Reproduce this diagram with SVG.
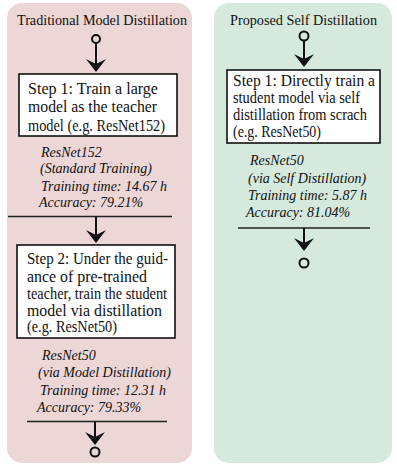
<svg xmlns="http://www.w3.org/2000/svg" xmlns:xlink="http://www.w3.org/1999/xlink" width="397" height="467" viewBox="0 0 397 467">
<style>
  text { font-family: "Liberation Serif", "Times New Roman", serif; fill: #111; }
  .title { font-size: 14px; text-anchor: middle; }
  .box { fill: #ffffff; stroke: #111; stroke-width: 1.6; }
  .bt { font-size: 16px; }
  .it { font-size: 14px; font-style: italic; }
  .ln { stroke: #222; stroke-width: 1.6; fill: none; }
  .vl { stroke: #111; stroke-width: 2; fill: none; }
  .dot { stroke: #111; stroke-width: 2; fill: none; }
</style>
<defs>
  <path id="ah" d="M-10,-13 L0,0 L10,-13 L0,-8 Z" fill="#111"/>
</defs>
<rect width="397" height="467" fill="#ffffff"/>
<g id="panel-traditional">
  <rect x="7" y="3" width="185" height="460" rx="15" fill="#ecd6d6"/>
  <text class="title" x="102" y="25" textLength="170" lengthAdjust="spacingAndGlyphs">Traditional Model Distillation</text>
</g>
<g id="panel-proposed">
  <rect x="214" y="3" width="178" height="460" rx="15" fill="#d6e9dd"/>
  <text class="title" x="303.5" y="25" textLength="147" lengthAdjust="spacingAndGlyphs">Proposed Self Distillation</text>
</g>
<g id="connectors">
  <circle class="dot" cx="96" cy="39" r="4"/>
  <line class="vl" x1="96" y1="43" x2="96" y2="66"/>
  <use xlink:href="#ah" x="96" y="72"/>
  <line class="ln" x1="8" y1="216.5" x2="172" y2="216.5"/>
  <line class="vl" x1="96" y1="216.5" x2="96" y2="237"/>
  <use xlink:href="#ah" x="96" y="243"/>
  <line class="ln" x1="27" y1="421.5" x2="167" y2="421.5"/>
  <line class="vl" x1="95" y1="421.5" x2="95" y2="439"/>
  <use xlink:href="#ah" x="95" y="445"/>
  <circle class="dot" cx="95" cy="452" r="4.5"/>
  <circle class="dot" cx="304" cy="36" r="4.5"/>
  <line class="vl" x1="304" y1="40.5" x2="304" y2="61"/>
  <use xlink:href="#ah" x="304" y="67"/>
  <line class="ln" x1="238" y1="228" x2="370" y2="228"/>
  <line class="vl" x1="304" y1="228" x2="304" y2="245"/>
  <use xlink:href="#ah" x="304" y="251"/>
  <circle class="dot" cx="304" cy="263" r="4.5"/>
</g>
<g id="step1-traditional">
  <rect class="box" x="19" y="74" width="158" height="62"/>
  <text class="bt" x="28" y="93.5" textLength="130" lengthAdjust="spacingAndGlyphs">Step 1: Train a large</text>
  <text class="bt" x="28" y="112" textLength="129" lengthAdjust="spacingAndGlyphs">model as the teacher</text>
  <text class="bt" x="28" y="130.5" textLength="137" lengthAdjust="spacingAndGlyphs">model (e.g. ResNet152)</text>
</g>
<g id="result-resnet152">
  <text class="it" x="41" y="156.5">ResNet152</text>
  <text class="it" x="40" y="173">(Standard Training)</text>
  <text class="it" x="41" y="190.5">Training time: 14.67 h</text>
  <text class="it" x="39" y="206.5">Accuracy: 79.21%</text>
</g>
<g id="step2-traditional">
  <rect class="box" x="17" y="245" width="158" height="93"/>
  <text class="bt" x="27" y="264" textLength="141" lengthAdjust="spacingAndGlyphs">Step 2: Under the guid-</text>
  <text class="bt" x="27" y="281.5" textLength="120" lengthAdjust="spacingAndGlyphs">ance of pre-trained</text>
  <text class="bt" x="27" y="299" textLength="140" lengthAdjust="spacingAndGlyphs">teacher, train the student</text>
  <text class="bt" x="27" y="316" textLength="135" lengthAdjust="spacingAndGlyphs">model via distillation</text>
  <text class="bt" x="27" y="332" textLength="90" lengthAdjust="spacingAndGlyphs">(e.g. ResNet50)</text>
</g>
<g id="result-resnet50-md">
  <text class="it" x="42" y="360">ResNet50</text>
  <text class="it" x="38" y="377">(via Model Distillation)</text>
  <text class="it" x="40" y="394.5">Training time: 12.31 h</text>
  <text class="it" x="37" y="411.5">Accuracy: 79.33%</text>
</g>
<g id="step1-proposed">
  <rect class="box" x="227" y="70" width="153" height="73"/>
  <text class="bt" x="233" y="85.5" textLength="142" lengthAdjust="spacingAndGlyphs">Step 1: Directly train a</text>
  <text class="bt" x="233" y="102.5" textLength="127" lengthAdjust="spacingAndGlyphs">student model via self</text>
  <text class="bt" x="233" y="120" textLength="134" lengthAdjust="spacingAndGlyphs">distillation from scrach</text>
  <text class="bt" x="233" y="137" textLength="88" lengthAdjust="spacingAndGlyphs">(e.g. ResNet50)</text>
</g>
<g id="result-resnet50-sd">
  <text class="it" x="250" y="165">ResNet50</text>
  <text class="it" x="248" y="182.5">(via Self Distillation)</text>
  <text class="it" x="248" y="200">Training time: 5.87 h</text>
  <text class="it" x="246" y="216.5">Accuracy: 81.04%</text>
</g>
</svg>
